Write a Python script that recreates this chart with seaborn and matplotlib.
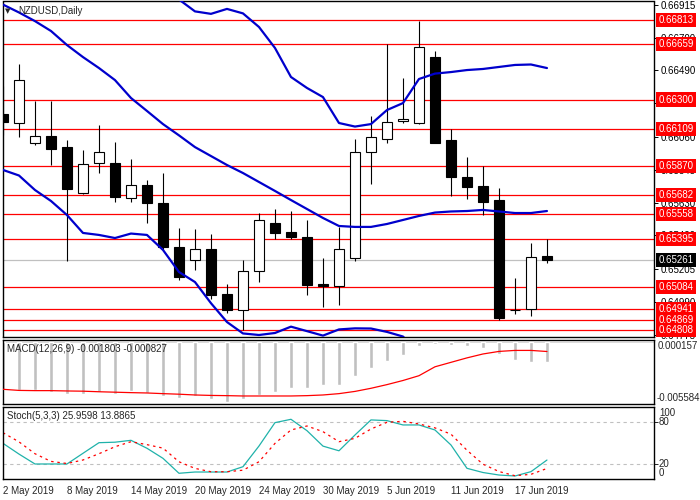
import numpy as np
import pandas as pd
import matplotlib
matplotlib.use("Agg")
import matplotlib.pyplot as plt
import matplotlib.transforms as mtransforms
import seaborn as sns

# daily bars, 2 May 2019 .. 19 Jun 2019
date_labels = ["2 May 2019", "8 May 2019", "14 May 2019", "20 May 2019", "24 May 2019",
               "30 May 2019", "5 Jun 2019", "11 Jun 2019", "17 Jun 2019"]
date_bars = [0, 4, 8, 12, 16, 20, 24, 28, 32]

opens = [0.66206, 0.66150, 0.66020, 0.66064, 0.65994, 0.65697, 0.65887, 0.65887, 0.65660, 0.65746,
         0.65628, 0.65347, 0.65259, 0.65330, 0.65041, 0.64934, 0.65188, 0.65500, 0.65442, 0.65408,
         0.65105, 0.65094, 0.65272, 0.65962, 0.66042, 0.66161, 0.66150, 0.66573, 0.66038, 0.65800,
         0.65740, 0.65649, 0.64937, 0.64941, 0.65287]
highs = [0.66388, 0.66530, 0.66290, 0.66290, 0.66038, 0.65973, 0.66135, 0.66027, 0.65915, 0.65779,
         0.65822, 0.65466, 0.65460, 0.65429, 0.65105, 0.65261, 0.65563, 0.65591, 0.65578, 0.65520,
         0.65274, 0.65476, 0.66042, 0.66193, 0.66658, 0.66437, 0.66810, 0.66614, 0.66111, 0.65930,
         0.65871, 0.65725, 0.65147, 0.65369, 0.65395]
lows = [0.66070, 0.66055, 0.66005, 0.65876, 0.65256, 0.65688, 0.65826, 0.65634, 0.65634, 0.65502,
        0.65326, 0.65131, 0.65196, 0.65008, 0.64919, 0.64808, 0.65120, 0.65395, 0.65395, 0.65036,
        0.64956, 0.64969, 0.65254, 0.65751, 0.66020, 0.66146, 0.66140, 0.66018, 0.65677, 0.65656,
        0.65552, 0.64869, 0.64909, 0.64900, 0.65239]
closes = [0.66156, 0.66426, 0.66064, 0.65982, 0.65719, 0.65880, 0.65962, 0.65671, 0.65746, 0.65628,
          0.65347, 0.65153, 0.65330, 0.65036, 0.64937, 0.65188, 0.65520, 0.65438, 0.65412, 0.65101,
          0.65094, 0.65330, 0.65962, 0.66059, 0.66152, 0.66174, 0.66638, 0.66020, 0.65800, 0.65735,
          0.65638, 0.64887, 0.64940, 0.65278, 0.65261]

bb_upper = [0.67986, 0.67920, 0.67902, 0.67845, 0.67754, 0.67715, 0.67585, 0.67449, 0.67188, 0.67060,
            0.67000, 0.66948, 0.66871, 0.66855, 0.66887, 0.66858, 0.66770, 0.66634, 0.66446, 0.66375,
            0.66316, 0.66148, 0.66125, 0.66141, 0.66232, 0.66277, 0.66433, 0.66468, 0.66478, 0.66491,
            0.66498, 0.66511, 0.66524, 0.66527, 0.66504]
bb_middle = [0.66915, 0.66864, 0.66808, 0.66744, 0.66653, 0.66575, 0.66504, 0.66426, 0.66310, 0.66226,
             0.66141, 0.66068, 0.65992, 0.65934, 0.65876, 0.65824, 0.65766, 0.65708, 0.65649, 0.65591,
             0.65533, 0.65481, 0.65475, 0.65475, 0.65494, 0.65520, 0.65546, 0.65568, 0.65575, 0.65578,
             0.65585, 0.65575, 0.65565, 0.65565, 0.65578]
bb_lower = [0.65844, 0.65808, 0.65714, 0.65643, 0.65552, 0.65436, 0.65423, 0.65403, 0.65432, 0.65423,
            0.65326, 0.65183, 0.65118, 0.64981, 0.64859, 0.64785, 0.64775, 0.64788, 0.64829, 0.64800,
            0.64771, 0.64811, 0.64818, 0.64817, 0.64795, 0.64765, 0.64659, 0.64668, 0.64672, 0.64665,
            0.64672, 0.64639, 0.64606, 0.64603, 0.64652]

levels = [0.66813, 0.66659, 0.66300, 0.66109, 0.65870, 0.65682, 0.65558, 0.65395,
          0.65084, 0.64941, 0.64869, 0.64808]
last_price = 0.65261
price_ticks = [0.66915, 0.66700, 0.66490, 0.66275, 0.66060, 0.65845, 0.65630, 0.65420,
               0.65205, 0.64990, 0.64775]

macd_hist = [-0.00428, -0.00428, -0.00432, -0.00446, -0.00464, -0.00464, -0.00448, -0.00464, -0.00441,
             -0.00455, -0.00482, -0.00501, -0.00482, -0.00513, -0.00533, -0.00511, -0.00473, -0.00448,
             -0.00413, -0.00407, -0.00383, -0.00383, -0.00300, -0.00228, -0.00168, -0.00114, -0.00030,
             -0.00018, -0.00022, -0.00033, -0.00048, -0.00109, -0.00163, -0.00174, -0.001803]
macd_signal = [-0.00422, -0.00432, -0.00434, -0.00434, -0.00437, -0.00439, -0.00444, -0.00448, -0.00452,
               -0.00455, -0.00461, -0.00466, -0.00473, -0.00477, -0.00479, -0.00482, -0.00482, -0.00482,
               -0.00482, -0.00479, -0.00473, -0.00461, -0.00441, -0.00413, -0.00380, -0.00343, -0.00300,
               -0.00220, -0.00180, -0.00140, -0.00105, -0.00082, -0.00073, -0.00073, -0.000827]

stoch_k = [49.9, 34.5, 20.3, 20.3, 20.3, 35.6, 50.8, 51.5, 54.2, 42.8, 28.4, 7.0, 8.8, 8.8, 8.8,
           16.4, 46.0, 79.5, 84.3, 68.0, 45.9, 39.2, 61.8, 83.4, 82.4, 76.2, 76.2, 69.0, 47.5, 14.1,
           8.1, 4.5, 3.1, 9.3, 25.96]
stoch_d = [65.1, 52.0, 35.0, 24.0, 21.0, 26.0, 35.0, 45.0, 52.2, 48.0, 43.0, 23.5, 14.0, 9.2, 9.2,
           11.4, 23.5, 49.8, 69.0, 74.7, 66.6, 52.2, 57.0, 70.4, 80.0, 81.4, 77.6, 72.0, 63.0, 40.0,
           20.0, 9.5, 3.5, 5.5, 13.89]

df = pd.DataFrame({"open": opens, "high": highs, "low": lows, "close": closes,
                   "upper": bb_upper, "middle": bb_middle, "lower": bb_lower,
                   "hist": macd_hist, "signal": macd_signal, "k": stoch_k, "d": stoch_d})
df["bar"] = np.arange(len(df))

sns.set_style("white")
plt.rcParams["font.family"] = ["Liberation Sans", "DejaVu Sans"]

W, H = 700, 500
fig = plt.figure(figsize=(7, 5), dpi=100)
ax = fig.add_axes([2.5 / W, 163 / H, 651.5 / W, 335.5 / H])
ax_macd = fig.add_axes([2.5 / W, 96 / H, 651.5 / W, 64.5 / H])
ax_sto = fig.add_axes([2.5 / W, 21 / H, 651.5 / W, 72 / H])

xlim = (-0.03, 40.69)
blue = "#0000CC"

# --- main chart ---
for lv in levels:
    ax.axhline(lv, color="red", lw=0.9, zorder=1)
ax.axhline(last_price, color="#C0C0C0", lw=0.9, zorder=1)

ax.vlines(df["bar"], df["low"], df["high"], color="black", lw=0.8, zorder=2)
body_lo = df[["open", "close"]].min(axis=1)
body_h = (df["close"] - df["open"]).abs()
fills = ["white" if c >= o else "black" for o, c in zip(df["open"], df["close"])]
ax.bar(df["bar"], body_h, bottom=body_lo, width=0.6, color=fills,
       edgecolor="black", linewidth=0.8, zorder=3)

for col in ["upper", "middle", "lower"]:
    sns.lineplot(data=df, x="bar", y=col, ax=ax, color=blue, lw=1.6, zorder=4)

ax.set_xlim(*xlim)
ax.set_ylim(0.64762, 0.66935)
ax.set_xticks([])
ax.yaxis.tick_right()
ax.set_yticks(price_ticks)
ax.set_yticklabels([f"{t:.5f}" for t in price_ticks])
ax.tick_params(axis="y", length=3, width=0.7, pad=2, labelsize=7, colors="black")
ax.set_xlabel("")
ax.set_ylabel("")

trans = mtransforms.blended_transform_factory(ax.transAxes, ax.transData)
for lv in levels:
    ax.text(1 + 4.5 / 651.5, lv, f"{lv:.5f}", transform=trans, color="white", fontsize=7,
            va="center", ha="left", clip_on=False, zorder=10,
            bbox=dict(boxstyle="square,pad=0.22", fc="red", ec="none"))
ax.text(1 + 4.5 / 651.5, last_price, f"{last_price:.5f}", transform=trans, color="white",
        fontsize=7, va="center", ha="left", clip_on=False, zorder=10,
        bbox=dict(boxstyle="square,pad=0.22", fc="black", ec="none"))

# --- MACD ---
ax_macd.axhline(0, color="#C0C0C0", lw=0.4)
ax_macd.bar(df["bar"], df["hist"], width=0.24, color="#C0C0C0", zorder=2)
sns.lineplot(data=df, x="bar", y="signal", ax=ax_macd, color="red", lw=0.9, zorder=3)
ax_macd.set_xlim(*xlim)
ax_macd.set_ylim(-0.00554, 0.00025)
ax_macd.set_xticks([])
ax_macd.set_yticks([])
ax_macd.set_xlabel("")
ax_macd.set_ylabel("")

# --- Stochastic ---
for lv in [80, 20]:
    ax_sto.axhline(lv, color="#C0C0C0", lw=0.8, ls=(0, (3, 3)))
sns.lineplot(data=df, x="bar", y="k", ax=ax_sto, color="#20B2AA", lw=0.9)
sns.lineplot(data=df, x="bar", y="d", ax=ax_sto, color="red", lw=0.9, linestyle=(0, (2, 3)))
ax_sto.set_xlim(*xlim)
ax_sto.set_ylim(-1.2, 101.9)
ax_sto.yaxis.tick_right()
ax_sto.set_yticks([20, 80])
ax_sto.set_yticklabels(["", ""])
ax_sto.tick_params(axis="y", length=3, width=0.7)
ax_sto.set_xticks(date_bars)
ax_sto.set_xticklabels(date_labels)
ax_sto.tick_params(axis="x", length=3, width=0.7, pad=2, labelsize=7)
for lbl in ax_sto.get_xticklabels():
    lbl.set_horizontalalignment("left")
ax_sto.set_xlabel("")
ax_sto.set_ylabel("")

for a in (ax, ax_macd, ax_sto):
    for sp in a.spines.values():
        sp.set_visible(True)
        sp.set_color("black")
        sp.set_linewidth(1.0)


def ftext(x, y, s, size=7, **kw):
    fig.text(x / W, 1 - y / H, s, va="center", ha="left", fontsize=size, **kw)


ftext(5, 11, "\u25bc", size=5, family="DejaVu Sans")
ftext(18, 11, "NZDUSD,Daily")
ftext(7, 349, "MACD(12,26,9) -0.001803 -0.000827")
ftext(7, 416, "Stoch(5,3,3) 25.9598 13.8865")
ftext(658, 346, "0.000157")
ftext(657, 398, "-0.005584")
ftext(659, 413, "100")
ftext(659, 422, "80")
ftext(659, 464, "20")
ftext(659, 473, "0")

fig.savefig("out.png", dpi=100, facecolor="white")
